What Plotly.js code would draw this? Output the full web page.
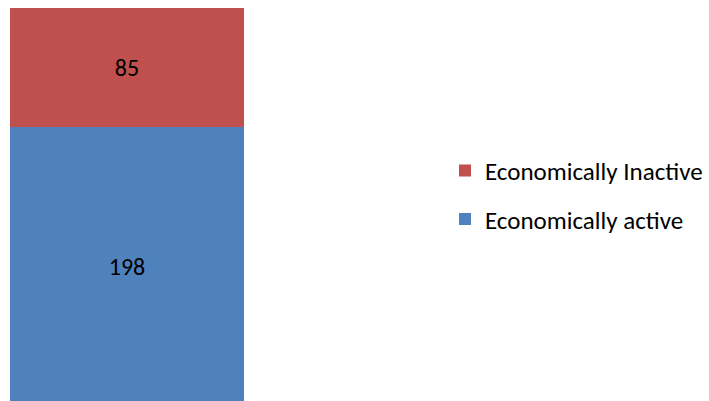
<!DOCTYPE html>
<html>
<head>
<meta charset="utf-8">
<script src="https://cdn.plot.ly/plotly-3.0.1.min.js"></script>
<style>html,body{margin:0;padding:0;background:#fff;}#chart{width:709px;height:401px;}</style>
</head>
<body>
<div id="chart"></div>
<script>
const categories = ["Total"];
const seriesNames = ["Economically active", "Economically Inactive"];
const activeValues = [198];
const inactiveValues = [85];
const colors = ["#4F81BD", "#C0504D"];
const FONT = "Calibri, Carlito, 'Liberation Sans Narrow', 'Open Sans', sans-serif";

const traces = [
  {type: "bar", name: seriesNames[0], x: categories, y: activeValues, marker: {color: colors[0]},
   text: activeValues.map(String), textposition: "inside", insidetextanchor: "middle", textangle: 0,
   textfont: {family: FONT, size: 24, color: "#000"}, hoverinfo: "none", legendgroup: "a", legendrank: 2},
  {type: "bar", name: seriesNames[1], x: categories, y: inactiveValues, marker: {color: colors[1]},
   text: inactiveValues.map(String), textposition: "inside", insidetextanchor: "middle", textangle: 0,
   textfont: {family: FONT, size: 24, color: "#000"}, hoverinfo: "none", legendgroup: "b", legendrank: 1}
];

const layout = {
  width: 709, height: 401,
  margin: {l: 10, r: 465, t: 8, b: 0, pad: 0},
  barmode: "stack", bargap: 0,
  paper_bgcolor: "#fff", plot_bgcolor: "#fff",
  font: {family: FONT, size: 25, color: "#000"},
  showlegend: true,
  legend: {x: 1.859, xanchor: "left", y: 0.525, yanchor: "middle", traceorder: "grouped",
           tracegroupgap: 13, font: {family: FONT, size: 25, color: "#000"}, bgcolor: "rgba(0,0,0,0)"},
  xaxis: {visible: false, range: [-0.5, 0.5], fixedrange: true},
  yaxis: {visible: false, range: [3, 283], fixedrange: true}
};

Plotly.newPlot("chart", traces, layout, {staticPlot: true});
</script>
</body>
</html>
